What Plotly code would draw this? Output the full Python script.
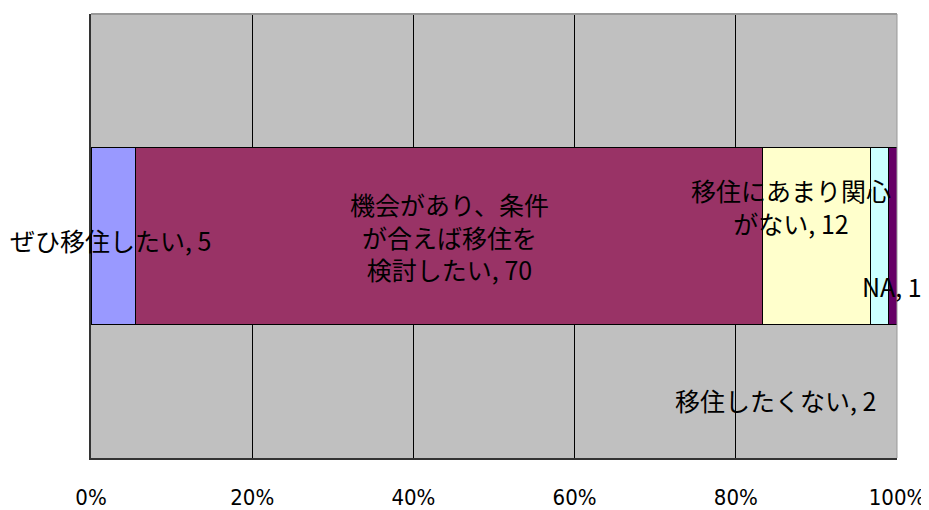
import plotly.graph_objects as go

categories = ["ぜひ移住したい", "機会があり、条件が合えば移住を検討したい", "移住にあまり関心がない", "移住したくない", "NA"]
values = [5, 70, 12, 2, 1]
colors = ["#9999FF", "#993366", "#FFFFCC", "#CCFFFF", "#660066"]
label_texts = ["ぜひ移住したい, 5", "機会があり、条件<br>が合えば移住を<br>検討したい, 70",
               "移住にあまり関心<br>がない, 12", "移住したくない, 2", "NA, 1"]
tick_vals = [0, 20, 40, 60, 80, 100]
tick_text = ["0%", "20%", "40%", "60%", "80%", "100%"]

fig = go.Figure()
for name, v, c in zip(categories, values, colors):
    fig.add_trace(go.Bar(
        y=[""], x=[v], name=name, orientation="h",
        marker=dict(color=c, line=dict(color="black", width=1)),
        width=0.4, hoverinfo="name+x",
    ))

total = sum(values)
cum = []
s = 0
for v in values:
    cum.append((s + v / 2) / total * 100)
    s += v

# label positions (x as fraction of plot width, y in paper)
label_pos = [
    (cum[0] / 100 - 0.003, 0.49),
    (cum[1] / 100, 0.499),
    (0.869, 0.566),
    (0.849, 0.131),
    (0.994, 0.387),
]
font_jp = "Noto Sans CJK JP, sans-serif"
for t, (lx, ly) in zip(label_texts, label_pos):
    fig.add_annotation(x=lx, y=ly, xref="paper", yref="paper", text=t, showarrow=False,
                       font=dict(family=font_jp, size=25, color="black"),
                       align="center", xanchor="center", yanchor="middle")

fig.update_layout(
    width=921, height=502,
    barmode="stack", barnorm="percent",
    showlegend=False,
    plot_bgcolor="#C0C0C0", paper_bgcolor="white",
    margin=dict(l=83, r=32, t=6, b=52, autoexpand=False),
    bargap=0.6,
)
fig.update_xaxes(
    range=[0, 100], tickvals=tick_vals, ticktext=tick_text,
    showgrid=True, gridcolor="black", gridwidth=1,
    showline=True, linecolor="#333333", linewidth=2, mirror=False,
    ticks="", ticklabelstandoff=19, automargin=False,
    tickfont=dict(family="DejaVu Sans Condensed, Liberation Sans Narrow, sans-serif", size=22, color="black"),
    zeroline=False, fixedrange=True,
)
fig.update_yaxes(
    range=[-0.5, 0.5], showticklabels=False, showgrid=False, automargin=False,
    showline=True, linecolor="#333333", linewidth=2, zeroline=False, fixedrange=True,
)
fig.add_shape(type="line", xref="paper", yref="paper", x0=0, x1=1, y0=1, y1=1,
              line=dict(color="#999999", width=2))
fig.add_shape(type="line", xref="paper", yref="paper", x0=1, x1=1, y0=0, y1=1,
              line=dict(color="#999999", width=1))

fig.write_html("out.html")
